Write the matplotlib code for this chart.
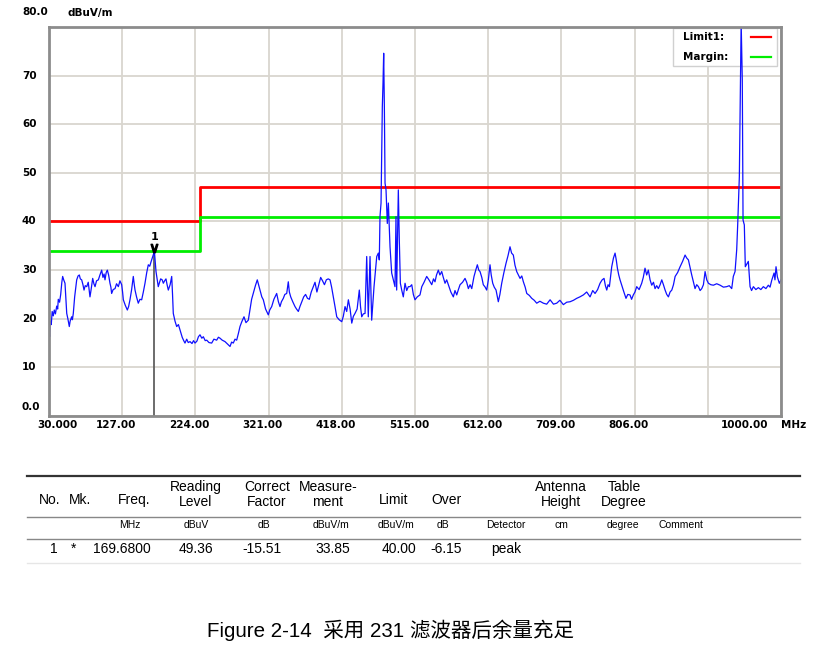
import matplotlib
matplotlib.use("Agg")
import matplotlib.pyplot as plt
import matplotlib.transforms as mtransforms
from matplotlib.patches import Rectangle
from matplotlib.lines import Line2D

# ---------------- data ----------------
# (frequency MHz, level dBuV/m)
trace = [
    (30, 18.4), (30.8, 16.3), (31.8, 19.5), (33, 18.8), (34.2, 21.5), (35.7, 20.6), (37, 21.8),
    (38.5, 21.0), (40.2, 22.6), (41.5, 22.0), (42.3, 24.0), (44, 23.4), (45.5, 25.0), (47, 27.5),
    (48.1, 28.7), (49.5, 28.0), (51.2, 27.3), (52.3, 24.5), (53.5, 21.1), (55, 20.0), (56.9, 18.4),
    (58, 19.5), (60, 20.4), (61, 19.8), (62.2, 21.1), (64, 24.5), (65.5, 26.5), (66.7, 28.0),
    (68.5, 28.8), (70.2, 29.0), (71.5, 28.2), (73.3, 28.0), (75, 27.0), (76.4, 25.9), (78, 26.8),
    (80, 26.6), (82, 27.5), (84.3, 24.5), (85.8, 26.0), (87.9, 28.3), (89.5, 27.2), (91, 26.6),
    (93, 27.8), (95.4, 28.0), (97.5, 29.0), (99.8, 30.0), (101.5, 28.5), (103, 29.2), (104.2, 28.0),
    (105.8, 29.5), (107.3, 30.0), (109, 29.0), (110.8, 27.3), (112, 26.5), (113, 25.2), (115, 26.0),
    (117.5, 26.2), (119.5, 27.2), (121.9, 26.6), (124, 27.8), (126.3, 27.0), (127.5, 25.5),
    (128.5, 23.9), (131, 22.8), (133.8, 21.8), (135.5, 22.5), (137.3, 23.9), (139.5, 26.0),
    (141.7, 28.7), (143, 27.0), (144, 25.9), (146, 24.5), (148.3, 23.2), (150.5, 24.0), (152.8, 23.9),
    (155, 25.5), (157.2, 27.3), (159.5, 29.5), (161.6, 31.1), (163.5, 30.8), (165.2, 31.7),
    (167.5, 32.8), (169.68, 33.85), (170.8, 31.5), (171.8, 29.7), (173.3, 28.2), (174.8, 26.6),
    (176.5, 27.5), (178, 28.2), (180, 28.0), (181.5, 27.3), (183.2, 27.8), (185, 28.2), (186.5, 27.0),
    (188.1, 25.9), (190.5, 27.0), (192.6, 28.7), (193.7, 25.0), (194.7, 21.1), (197, 19.5),
    (199.2, 18.4), (201.5, 18.8), (203.6, 17.7), (206.5, 16.2), (208.5, 15.5), (210.2, 15.0),
    (212.5, 15.8), (214.5, 15.1), (216.9, 15.3), (219.5, 14.9), (221.5, 15.5), (223.5, 15.0),
    (226, 15.4), (228, 16.3), (230.1, 16.7), (232.5, 16.0), (234.5, 16.3), (237, 15.5), (239, 15.6),
    (242, 15.1), (245.6, 15.0), (248.5, 15.8), (252.2, 15.6), (254.5, 16.2), (256.6, 16.0),
    (259.5, 15.6), (263.2, 15.3), (266.5, 14.8), (269.9, 14.3), (272, 15.2), (274.2, 15.0),
    (276.5, 15.8), (278.7, 15.6), (281, 17.0), (283.1, 18.4), (285.5, 19.4), (288.4, 20.4),
    (291, 19.2), (294.1, 19.7), (296.5, 22.0), (298.5, 24.0), (300.7, 25.2), (303.5, 26.8),
    (306, 28.0), (308, 26.8), (309.6, 25.9), (312, 24.5), (314, 23.9), (317, 22.0), (320.6, 20.8),
    (322.5, 21.8), (325.1, 22.5), (328, 24.0), (331.7, 25.2), (334, 23.5), (336.1, 22.5),
    (338, 23.5), (340.5, 24.2), (342.5, 25.0), (345, 25.2), (347.1, 27.6), (348.5, 25.5),
    (350.3, 24.5), (353, 23.5), (356, 22.5), (358, 22.0), (360.4, 21.5), (362.5, 22.5), (365, 23.5),
    (367.5, 24.5), (370, 25.0), (372.5, 24.2), (375, 24.0), (377.5, 25.5), (380, 26.5),
    (382.5, 27.5), (385, 25.5), (387.5, 27.0), (390, 28.5), (392.5, 27.8), (395, 27.0),
    (397.5, 28.0), (400, 28.2), (402.4, 28.0), (404.5, 26.5), (406.8, 24.5), (409, 22.5),
    (411.3, 20.4), (414.5, 19.8), (417.9, 19.4), (420, 20.5), (422.3, 22.5), (424.5, 21.5),
    (426.7, 23.9), (429, 22.0), (431.2, 19.1), (433.3, 20.5), (435.5, 21.1), (438.3, 22.0),
    (441.2, 25.9), (442.8, 22.5), (444.4, 20.4), (446.5, 21.0), (448.8, 21.1), (451, 32.8),
    (453.1, 20.4), (455.4, 32.8), (457.6, 19.7), (460.7, 26.6), (464.3, 32.8), (466.4, 33.5),
    (467.7, 32.1), (468.6, 41.0), (470, 43.8), (471.7, 63.6), (472.6, 68.4), (473.5, 74.6),
    (474.4, 63.6), (475.3, 47.9), (476.6, 46.5), (478.3, 39.6), (479.7, 43.8), (481.9, 34.8),
    (484.1, 29.4), (486.3, 28.0), (488.5, 26.6), (489.8, 41.0), (490.7, 25.9), (492.9, 46.5),
    (494.2, 36.2), (495.6, 27.3), (497.4, 25.9), (499.5, 24.5), (501.8, 27.3), (504, 25.8),
    (506.2, 26.6), (508.4, 26.6), (510.7, 27.0), (512.8, 25.0), (515, 23.9), (518, 24.5),
    (521.6, 24.9), (524, 26.6), (527, 27.5), (530.5, 28.7), (533.5, 28.0), (537.2, 27.0),
    (539.5, 28.2), (541.5, 27.6), (543.5, 29.0), (545.9, 30.0), (548, 29.0), (550.4, 29.7),
    (552.5, 28.5), (554.8, 27.3), (557, 28.0), (559.2, 27.0), (562.5, 25.5), (565.8, 24.5),
    (568, 25.8), (570.3, 24.9), (572.5, 26.0), (574.7, 27.0), (578, 27.5), (581.3, 28.3),
    (583.5, 27.5), (585.7, 26.2), (588, 27.0), (590.2, 26.2), (593.2, 28.7), (595.5, 30.0),
    (597.6, 31.1), (599.5, 30.0), (601.2, 29.7), (603.5, 28.5), (605.5, 27.0), (608, 26.5),
    (610, 25.9), (612.2, 28.0), (614.4, 31.1), (616, 29.0), (618, 27.3), (620, 26.5), (622.4, 25.9),
    (625.4, 23.5), (627.5, 25.0), (629.9, 27.3), (632.8, 29.5), (635.6, 31.4), (638.3, 33.0),
    (640.9, 34.8), (643, 33.5), (645.3, 33.1), (647.5, 31.0), (649.8, 29.7), (652, 29.0),
    (654.2, 28.3), (656.5, 28.8), (658.6, 27.6), (661, 26.5), (663.1, 25.2), (666.5, 24.8),
    (669.7, 24.2), (673, 23.8), (676.3, 23.2), (680.5, 23.6), (685.1, 23.2), (689.5, 23.0),
    (694, 23.9), (698.5, 23.0), (702.8, 23.2), (707, 23.8), (711.6, 22.9), (716, 23.4),
    (720.5, 23.5), (725, 23.8), (729.3, 24.2), (733.5, 24.5), (738.1, 24.9), (742.5, 25.5),
    (747, 24.5), (750.5, 25.8), (753.6, 25.2), (757, 26.0), (760.2, 27.3), (763, 28.0),
    (765.5, 28.3), (767.3, 26.8), (769.1, 25.9), (770.8, 27.0), (772.6, 26.6), (774, 28.5),
    (775.7, 30.7), (778, 32.5), (780.1, 33.5), (781.8, 32.0), (783.2, 30.4), (785, 29.0),
    (786.7, 28.0), (788.9, 26.9), (791.8, 25.5), (794.6, 24.2), (797, 25.0), (799.9, 24.9),
    (802, 24.0), (804.3, 24.9), (806.5, 25.5), (808.8, 26.6), (812, 26.0), (815.4, 27.3),
    (817.5, 28.5), (819.8, 30.4), (822, 29.0), (824.2, 30.0), (826.5, 28.0), (828.7, 26.9),
    (831, 27.5), (833.1, 26.2), (835.3, 26.8), (837.5, 26.2), (839.8, 27.0), (842, 28.0),
    (844.2, 27.0), (846.4, 25.9), (848.6, 25.0), (850.8, 24.5), (853, 25.5), (855.3, 25.9),
    (857.5, 27.0), (859.7, 28.7), (863, 29.5), (866.3, 30.7), (869.6, 31.8), (872.9, 33.1),
    (875, 32.5), (877.3, 32.1), (879.5, 30.5), (881.7, 29.0), (884, 27.5), (886.1, 26.2),
    (888.3, 27.0), (890.6, 26.6), (892.8, 25.8), (895, 26.2), (897.2, 27.0), (899.4, 29.7),
    (901.6, 28.0), (903.8, 27.3), (907, 27.0), (910.4, 26.9), (914.8, 27.2), (919.3, 26.9),
    (923.7, 26.5), (928.1, 26.6), (931.4, 26.8), (934.7, 26.2), (936.8, 28.7), (939.1, 29.7),
    (941.3, 34.2), (942.6, 39.3), (944.8, 49.2), (946.1, 65.7), (947.2, 81.0), (948.7, 69.1),
    (949.7, 40.3), (951.4, 39.3), (952.7, 30.7), (954.5, 31.2), (956.7, 31.8), (959, 26.6),
    (961, 25.8), (963.4, 26.6), (966.7, 26.0), (970, 26.4), (973.3, 26.0), (976.6, 26.6),
    (980, 26.2), (983.2, 26.9), (985.5, 26.5), (987.7, 27.9), (990.8, 29.4), (992, 28.0),
    (993.4, 30.7), (995.2, 28.6), (997.8, 27.3), (1000, 28.0),
]
freq = [p[0] for p in trace]
level = [p[1] for p in trace]

limit_freq = [30, 230, 230, 1000]
limit_level = [40, 40, 47, 47]
margin_freq = [30, 230, 230, 1000]
margin_level = [34, 34, 41, 41]

x_ticks = [30, 127, 224, 321, 418, 515, 612, 709, 806, 903, 1000]
x_tick_labels = ["30.000", "127.00", "224.00", "321.00", "418.00", "515.00", "612.00",
                 "709.00", "806.00", "", "1000.00"]
y_ticks = [0, 10, 20, 30, 40, 50, 60, 70]
y_tick_labels = ["0.0", "10", "20", "30", "40", "50", "60", "70"]

marker_no = "1"
marker_freq = 169.68
marker_level = 33.85

table_top = ["", "", "", "Reading", "Correct", "Measure-", "", "", "", "Antenna", "Table", ""]
table_mid = ["No.", "Mk.", "Freq.", "Level", "Factor", "ment", "Limit", "Over", "", "Height", "Degree", ""]
table_units = ["", "", "MHz", "dBuV", "dB", "dBuV/m", "dBuV/m", "dB", "Detector", "cm", "degree", "Comment"]
table_row = ["1", "*", "169.6800", "49.36", "-15.51", "33.85", "40.00", "-6.15", "peak", "", "", ""]

caption = "Figure 2-14  采用 231 滤波器后余量充足"

# ---------------- figure ----------------
W, H = 828, 653
fig = plt.figure(figsize=(W / 100, H / 100), dpi=100)
fig.patch.set_facecolor("white")


def fx(x):
    return x / W


def fy(y):
    return 1 - y / H


ax_l, ax_r, ax_t, ax_b = 49, 781, 27, 416
ax = fig.add_axes([fx(ax_l), fy(ax_b), (ax_r - ax_l) / W, (ax_b - ax_t) / H])
ax.set_xlim(30, 1000)
ax.set_ylim(0, 80)
ax.set_xticks(x_ticks)
ax.set_yticks(y_ticks)
ax.set_xticklabels([])
ax.set_yticklabels([])
ax.tick_params(length=0)
ax.grid(True, color="#d9d6cf", lw=1.3, zorder=0)
ax.set_axisbelow(True)
for s in ax.spines.values():
    s.set_color("#8c8c8c")
    s.set_linewidth(2)
    s.set_zorder(6)

# limits
ax.plot(limit_freq, limit_level, color="#ff0000", lw=2, zorder=2)
ax.plot(margin_freq, margin_level, color="#00ee00", lw=2, zorder=2)

# marker line
ax.plot([marker_freq, marker_freq], [0, marker_level], color="#606060", lw=1.3, zorder=3)

# legend box (inside axes, beneath the trace)
leg_x0, leg_y0, leg_x1, leg_y1 = 673, 28, 777, 66
ax.add_patch(Rectangle((fx(leg_x0), fy(leg_y1)), (leg_x1 - leg_x0) / W, (leg_y1 - leg_y0) / H,
                       transform=fig.transFigure, facecolor="white", edgecolor="#d0d0d0",
                       lw=1, zorder=3))
ax.text(fx(683), fy(37), "Limit1:", transform=fig.transFigure, fontsize=7.5, fontweight="bold",
        va="center", ha="left", zorder=3.2)
ax.text(fx(683), fy(57), "Margin:", transform=fig.transFigure, fontsize=7.5, fontweight="bold",
        va="center", ha="left", zorder=3.2)
ax.add_line(Line2D([fx(751), fx(771)], [fy(37), fy(37)], transform=fig.transFigure,
                   color="#ff0000", lw=1.6, zorder=3.2))
ax.add_line(Line2D([fx(751), fx(771)], [fy(57), fy(57)], transform=fig.transFigure,
                   color="#00ee00", lw=1.6, zorder=3.2))

# trace
ax.plot(freq, level, color="#1010ff", lw=0.9, zorder=4)

# marker symbol and number
ax.plot([marker_freq], [marker_level + 0.6], marker=r"$\vee$", color="black", ms=6, zorder=6)
ax.text(marker_freq, marker_level + 2.0, marker_no, ha="center", va="bottom",
        fontsize=8, fontweight="bold", color="black", zorder=6)

# y labels
trans_y = mtransforms.blended_transform_factory(fig.transFigure, ax.transData)
for v, lab in zip(y_ticks, y_tick_labels):
    off = 1.9 if v == 0 else 0
    ax.text(fx(22), v + off, lab, transform=trans_y, ha="left", va="center",
            fontsize=7.5, fontweight="bold", clip_on=False)
fig.text(fx(22), fy(12), "80.0", ha="left", va="center", fontsize=7.5, fontweight="bold")
fig.text(fx(68), fy(13), "dBuV/m", ha="left", va="center", fontsize=7.5, fontweight="bold")

# x labels
trans_x = mtransforms.blended_transform_factory(ax.transData, fig.transFigure)
for i, (v, lab) in enumerate(zip(x_ticks, x_tick_labels)):
    if not lab:
        continue
    if i == 0:
        dx = 8
    elif i == len(x_ticks) - 1:
        dx = -36
    else:
        dx = -6
    t = mtransforms.offset_copy(trans_x, fig=fig, x=dx * 0.72, y=0, units="points")
    ax.text(v, fy(425), lab, transform=t, ha="center", va="center", fontsize=7.5,
            fontweight="bold", clip_on=False)
fig.text(fx(781), fy(425), "MHz", ha="left", va="center", fontsize=7.5, fontweight="bold")

# ---------------- table ----------------
tfont = "Liberation Sans"
col_x = [50, 80, 134, 196, 267, 328, 394, 447, 506, 561, 624, 681]
units_x = [50, 80, 130, 196, 264, 331, 396, 443, 506, 561, 623, 681]
row_x = [54, 74, 122, 196, 262, 333, 399, 446, 506, 561, 624, 681]
fig.add_artist(Line2D([fx(27), fx(800)], [fy(476), fy(476)], color="#333333", lw=1.6))
fig.add_artist(Line2D([fx(27), fx(800)], [fy(517), fy(517)], color="#888888", lw=1.0))
fig.add_artist(Line2D([fx(27), fx(800)], [fy(539), fy(539)], color="#888888", lw=1.0))
fig.add_artist(Line2D([fx(27), fx(800)], [fy(563), fy(563)], color="#e6e6e6", lw=1.0))
for x, lab in zip(col_x, table_top):
    if lab:
        fig.text(fx(x), fy(487), lab, ha="center", va="center", fontsize=10, family=tfont)
for x, lab in zip(col_x, table_mid):
    if lab:
        yy = 500 if lab in ("No.", "Mk.", "Freq.", "Limit", "Over") else 502
        fig.text(fx(x), fy(yy), lab, ha="center", va="center", fontsize=10, family=tfont)
for x, lab in zip(units_x, table_units):
    if lab:
        fig.text(fx(x), fy(525), lab, ha="center", va="center", fontsize=7.5, family=tfont)
for x, lab in zip(row_x, table_row):
    if lab:
        fig.text(fx(x), fy(549), lab, ha="center", va="center", fontsize=10, family=tfont)

# caption
fig.text(fx(207), fy(630), caption, ha="left", va="center", fontsize=14.8,
         family=["Liberation Sans", "Noto Sans CJK SC"])

fig.savefig("out.png", dpi=100, facecolor="white")
